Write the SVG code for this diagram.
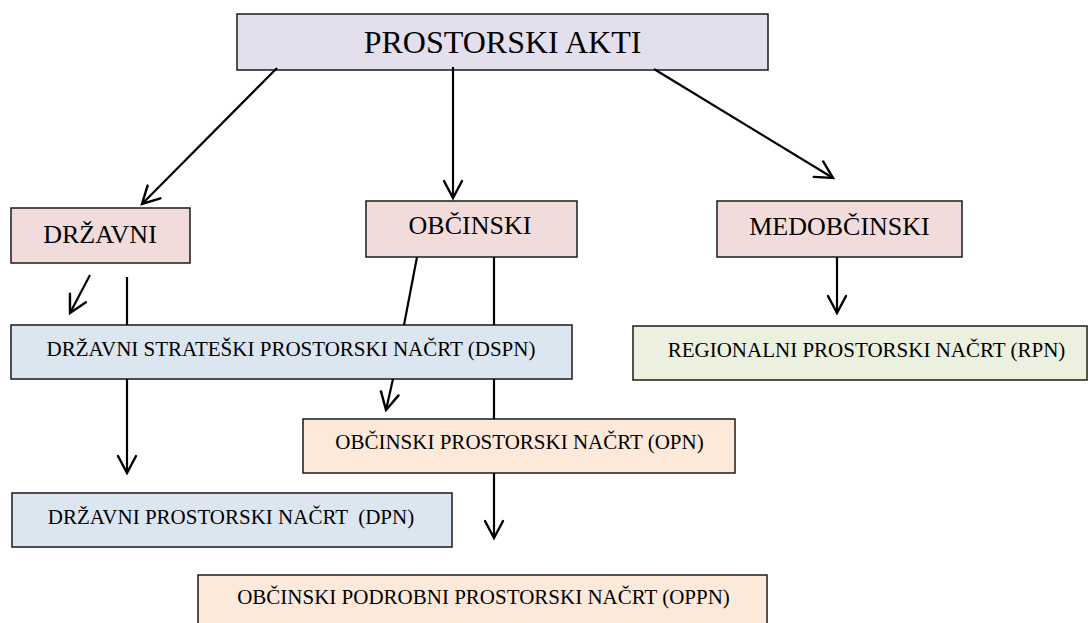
<svg xmlns="http://www.w3.org/2000/svg" width="1088" height="623" viewBox="0 0 1088 623">
  <style>
    .box { stroke: #1a1a1a; stroke-width: 1.5; }
    .lav { fill: #E4DFEC; }
    .pink { fill: #F2DCDB; }
    .blue { fill: #DCE6F1; }
    .peach { fill: #FDE9D9; }
    .green { fill: #EBF1DE; }
    text { font-family: "Liberation Serif", "Times New Roman", serif; fill: #000; text-anchor: middle; }
    .t32 { font-size: 32px; }
    .t26 { font-size: 26px; }
    .t21 { font-size: 21px; }
    .conn { stroke: #000; stroke-width: 2.2; fill: none; }
    .arr { marker-end: url(#arrow); }
  </style>
  <defs>
    <marker id="arrow" markerUnits="userSpaceOnUse" viewBox="-20 -12 22 24" refX="0" refY="0" markerWidth="22" markerHeight="24" orient="auto" overflow="visible">
      <path d="M-17,-9 L0,0 L-17,9" fill="none" stroke="#000" stroke-width="2.4" stroke-linecap="round" stroke-linejoin="miter"/>
    </marker>
  </defs>
  <rect width="1088" height="623" fill="#fff"/>

  <g id="prostorski-akti">
    <rect class="box lav" x="237" y="14" width="531" height="56"/>
    <text class="t32" x="502.5" y="53">PROSTORSKI AKTI</text>
  </g>
  <g id="drzavni">
    <rect class="box pink" x="11" y="208" width="179" height="55"/>
    <text class="t26" x="100" y="243">DRŽAVNI</text>
  </g>
  <g id="obcinski">
    <rect class="box pink" x="366" y="201" width="211" height="56"/>
    <text class="t26" x="470" y="234">OBČINSKI</text>
  </g>
  <g id="medobcinski">
    <rect class="box pink" x="717" y="201" width="245" height="56"/>
    <text class="t26" x="839.5" y="235">MEDOBČINSKI</text>
  </g>
  <g id="dspn">
    <rect class="box blue" x="11" y="325" width="561" height="54"/>
    <text class="t21" x="291" y="356">DRŽAVNI STRATEŠKI PROSTORSKI NAČRT (DSPN)</text>
  </g>
  <g id="rpn">
    <rect class="box green" x="633" y="326" width="454" height="54"/>
    <text class="t21" x="866.5" y="357">REGIONALNI PROSTORSKI NAČRT (RPN)</text>
  </g>
  <g id="opn">
    <rect class="box peach" x="303" y="419" width="432" height="54"/>
    <text class="t21" x="519.5" y="449">OBČINSKI PROSTORSKI NAČRT (OPN)</text>
  </g>
  <g id="dpn">
    <rect class="box blue" x="12" y="493" width="440" height="54"/>
    <text class="t21" x="231" y="524" xml:space="preserve">DRŽAVNI PROSTORSKI NAČRT  (DPN)</text>
  </g>
  <g id="oppn">
    <rect class="box peach" x="198" y="575" width="569" height="60"/>
    <text class="t21" x="483.5" y="604">OBČINSKI PODROBNI PROSTORSKI NAČRT (OPPN)</text>
  </g>

  <g id="connectors">
    <line class="conn arr" x1="277" y1="68" x2="142" y2="204"/>
    <line class="conn arr" x1="453" y1="67" x2="453" y2="198"/>
    <line class="conn arr" x1="654" y1="69" x2="833" y2="178"/>
    <line class="conn arr" x1="90" y1="275" x2="70" y2="313"/>
    <line class="conn" x1="127" y1="277" x2="127" y2="325"/>
    <line class="conn arr" x1="127" y1="379" x2="127" y2="473"/>
    <line class="conn" x1="417" y1="257" x2="404" y2="325"/>
    <line class="conn arr" x1="393" y1="379" x2="386" y2="410"/>
    <line class="conn" x1="494" y1="257" x2="494" y2="325"/>
    <line class="conn" x1="494" y1="379" x2="494" y2="419"/>
    <line class="conn arr" x1="494" y1="473" x2="494" y2="538"/>
    <line class="conn arr" x1="837" y1="257" x2="837" y2="313"/>
  </g>
</svg>
